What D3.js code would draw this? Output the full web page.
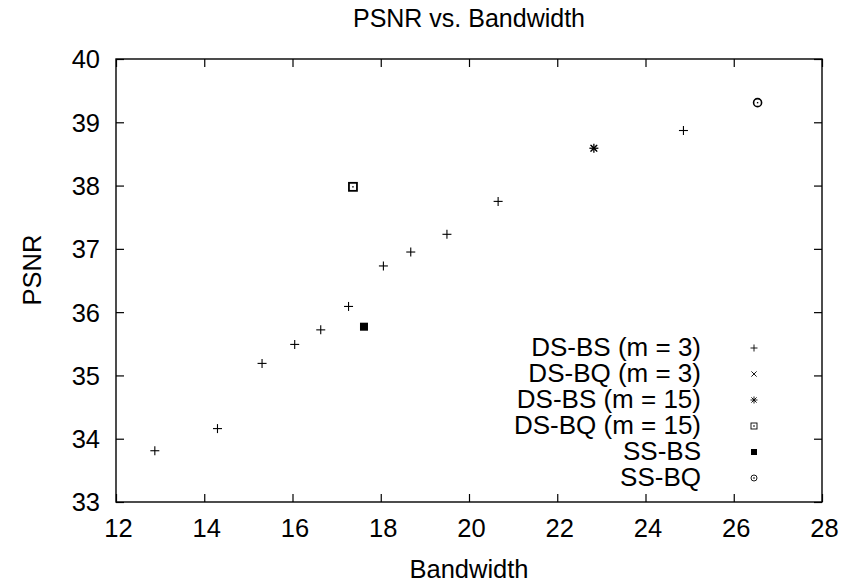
<!DOCTYPE html>
<html><head><meta charset="utf-8">
<script src="https://cdn.jsdelivr.net/npm/d3@7"></script>
<style>
body{margin:0;background:#fff}
svg{display:block}
text{font-family:"Liberation Sans",Arial,Helvetica,sans-serif;fill:#000}
</style></head>
<body><svg id="c" width="844" height="587"></svg>
<script>
// ---- data ----
const xTicks = [12,14,16,18,20,22,24,26,28];
const yTicks = [33,34,35,36,37,38,39,40];
const dsbs3X = [12.88,14.30,15.31,16.05,16.64,17.27,18.06,18.68,19.50,20.66,24.86];
const dsbs3Y = [33.81,34.16,35.19,35.49,35.72,36.09,36.73,36.95,37.23,37.75,38.87];
const dsbq3X = [22.83];
const dsbq3Y = [38.59];
const dsbs15X = [22.83];
const dsbs15Y = [38.59];
const dsbq15X = [17.37];
const dsbq15Y = [37.98];
const ssbsX = [17.62];
const ssbsY = [35.77];
const ssbqX = [26.54];
const ssbqY = [39.31];
const seriesNames = ["DS-BS (m = 3)","DS-BQ (m = 3)","DS-BS (m = 15)","DS-BQ (m = 15)","SS-BS","SS-BQ"];
const seriesSym = ["plus","cross","star","boxdot","box","circdot"];

const svg = d3.select("#c");
const L=116,R=822,T=59,B=502;
const x = d3.scaleLinear().domain([12,28]).range([L,R]);
const y = d3.scaleLinear().domain([33,40]).range([B,T]);
const FS = 25.5;

// axes ticks (inward, mirrored)
const tk = 8;
svg.append("g").attr("transform",`translate(0,${B})`).call(d3.axisBottom(x).tickValues(xTicks).tickSize(-tk).tickFormat(""));
svg.append("g").attr("transform",`translate(0,${T})`).call(d3.axisTop(x).tickValues(xTicks).tickSize(-tk).tickFormat(""));
svg.append("g").attr("transform",`translate(${L},0)`).call(d3.axisLeft(y).tickValues(yTicks).tickSize(-tk).tickFormat(""));
svg.append("g").attr("transform",`translate(${R},0)`).call(d3.axisRight(y).tickValues(yTicks).tickSize(-tk).tickFormat(""));
svg.selectAll(".domain").remove();
svg.selectAll(".tick line").attr("stroke","#000").attr("stroke-width",1.2);

// tick labels
const xl = svg.append("g").attr("transform",`translate(0,${B})`).call(d3.axisBottom(x).tickValues(xTicks).tickSize(0).tickPadding(17).tickFormat(d3.format("d")));
const yl = svg.append("g").attr("transform",`translate(${L},0)`).call(d3.axisLeft(y).tickValues(yTicks).tickSize(0).tickPadding(16).tickFormat(d3.format("d")));
[xl,yl].forEach(g=>{g.select(".domain").remove();g.selectAll("text").attr("font-size",FS).attr("font-family",'"Liberation Sans",Arial,sans-serif').attr("fill","#000");});
xl.selectAll("text").attr("dx",2);
yl.selectAll("text").attr("dy","0.35em");

// border
svg.append("rect").attr("x",L).attr("y",T).attr("width",R-L).attr("height",B-T)
  .attr("fill","none").attr("stroke","#000").attr("stroke-width",1.4);

// titles
svg.append("text").attr("x",469).attr("y",27).attr("text-anchor","middle").attr("font-size",25).text("PSNR vs. Bandwidth");
svg.append("text").attr("x",469).attr("y",578).attr("text-anchor","middle").attr("font-size",FS).text("Bandwidth");
svg.append("text").attr("transform","translate(41,270) rotate(-90)").attr("text-anchor","middle").attr("font-size",FS).text("PSNR");

// symbol drawer
function sym(g, type, cx, cy, s, sw){
  const h = s/2;
  const ln = (x1,y1,x2,y2)=>g.append("line").attr("x1",cx+x1).attr("y1",cy+y1).attr("x2",cx+x2).attr("y2",cy+y2).attr("stroke","#000").attr("stroke-width",sw);
  if(type==="plus"){ln(-h,0,h,0);ln(0,-h,0,h);}
  else if(type==="cross"){const k=h*0.75;ln(-k,-k,k,k);ln(-k,k,k,-k);}
  else if(type==="star"){const k=h*0.75;ln(-h,0,h,0);ln(0,-h,0,h);ln(-k,-k,k,k);ln(-k,k,k,-k);}
  else if(type==="box"){g.append("rect").attr("x",cx-h).attr("y",cy-h).attr("width",s).attr("height",s).attr("fill","#000");}
  else if(type==="boxdot"){g.append("rect").attr("x",cx-h).attr("y",cy-h).attr("width",s).attr("height",s).attr("fill","none").attr("stroke","#000").attr("stroke-width",sw);
    g.append("rect").attr("x",cx-0.7).attr("y",cy-0.7).attr("width",1.4).attr("height",1.4).attr("fill","#000");}
  else if(type==="circdot"){g.append("circle").attr("cx",cx).attr("cy",cy).attr("r",h).attr("fill","none").attr("stroke","#000").attr("stroke-width",sw);
    g.append("rect").attr("x",cx-0.7).attr("y",cy-0.7).attr("width",1.4).attr("height",1.4).attr("fill","#000");}
}

const series = [
  {xs:dsbs3X, ys:dsbs3Y},
  {xs:dsbq3X, ys:dsbq3Y},
  {xs:dsbs15X, ys:dsbs15Y},
  {xs:dsbq15X, ys:dsbq15Y},
  {xs:ssbsX, ys:ssbsY},
  {xs:ssbqX, ys:ssbqY}
];
const dataSize = [9,8,9,8,8,8];
const dataSw = [1.1,1.1,1.3,1.8,1,1.6];
const pts = svg.append("g");
series.forEach((s,i)=>{
  s.xs.forEach((xv,j)=>sym(pts, seriesSym[i], x(xv), y(s.ys[j]), dataSize[i], dataSw[i]));
});

// legend
const lg = svg.append("g");
const legSize = [7,7,7,6,6,6];
seriesNames.forEach((n,i)=>{
  const by = 356 + i*26;
  lg.append("text").attr("x",701).attr("y",by).attr("text-anchor","end").attr("font-size",26).text(n);
  sym(lg, seriesSym[i], 754, by-8, legSize[i], 0.9);
});
</script></body></html>
